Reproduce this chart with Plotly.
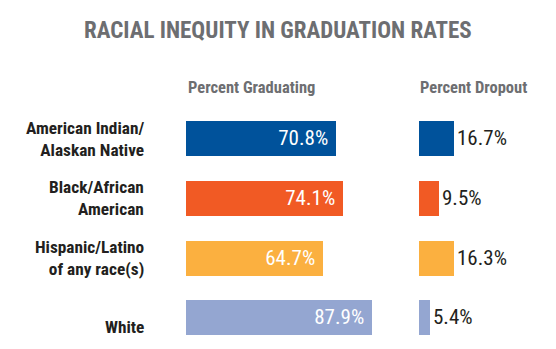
import plotly.graph_objects as go

categories = ["American Indian/<br>Alaskan Native", "Black/African<br>American",
              "Hispanic/Latino<br>of any race(s)", "White"]
graduating = [70.8, 74.1, 64.7, 87.9]
dropout = [16.7, 9.5, 16.3, 5.4]
colors = ["#00529b", "#f15a24", "#fbb040", "#94a6d1"]

W, H = 556, 349
FONT = "Roboto Condensed, Open Sans Condensed, sans-serif"
ypos = list(range(len(categories)))

fig = go.Figure()
fig.add_trace(go.Bar(
    x=graduating, y=ypos, orientation="h", marker=dict(color=colors, line=dict(width=0)),
    width=0.587, text=[f"{v:.1f}% " for v in graduating], textposition="inside",
    insidetextanchor="end", constraintext="none",
    textfont=dict(family=FONT, size=21, color="white"),
    xaxis="x", yaxis="y", hoverinfo="skip", showlegend=False, cliponaxis=False))
fig.add_trace(go.Bar(
    x=dropout, y=ypos, orientation="h", marker=dict(color=colors, line=dict(width=0)),
    width=0.587, text=[f"{v:.1f}%" for v in dropout], textposition="outside",
    constraintext="none",
    textfont=dict(family=FONT, size=21, color="#231f20"),
    xaxis="x2", yaxis="y", hoverinfo="skip", showlegend=False, cliponaxis=False))

top_px, bot_px = 108.67, 347.3
ax_common = dict(showgrid=False, zeroline=False, showticklabels=False, showline=False, ticks="", fixedrange=True)
fig.update_layout(
    width=W, height=H, margin=dict(l=0, r=0, t=0, b=0),
    paper_bgcolor="white", plot_bgcolor="white",
    xaxis=dict(domain=[186 / W, 398 / W], range=[0, 100], **ax_common),
    xaxis2=dict(domain=[419 / W, 1.0], range=[0, 137 / 2.12], anchor="y", **ax_common),
    yaxis=dict(domain=[(H - bot_px) / H, (H - top_px) / H], range=[3.5, -0.5], **ax_common),
    bargap=0,
)

annotations = [
    dict(text="<b>RACIAL INEQUITY IN GRADUATION RATES</b>", x=0.5, y=1 - 30 / H, xref="paper", yref="paper",
         xanchor="center", yanchor="middle", showarrow=False,
         font=dict(family=FONT, size=23, color="#6d6e71")),
    dict(text="<b>Percent Graduating</b>", x=186 / W, y=1 - 88 / H, xref="paper", yref="paper",
         xanchor="left", yanchor="middle", showarrow=False,
         font=dict(family=FONT, size=16.5, color="#6d6e71")),
    dict(text="<b>Percent Dropout</b>", x=418 / W, y=1 - 88 / H, xref="paper", yref="paper",
         xanchor="left", yanchor="middle", showarrow=False,
         font=dict(family=FONT, size=16.5, color="#6d6e71")),
]
for i, cat in enumerate(categories):
    annotations.append(dict(
        text=f"<b>{cat}</b>", x=146 / W, y=i, xref="paper", yref="y",
        xanchor="right", yanchor="middle", align="right", showarrow=False,
        yshift=-10 if "<br>" not in cat else 0,
        font=dict(family=FONT, size=17.3, color="#231f20")))
fig.update_layout(annotations=annotations)

fig.write_html("out.html")
